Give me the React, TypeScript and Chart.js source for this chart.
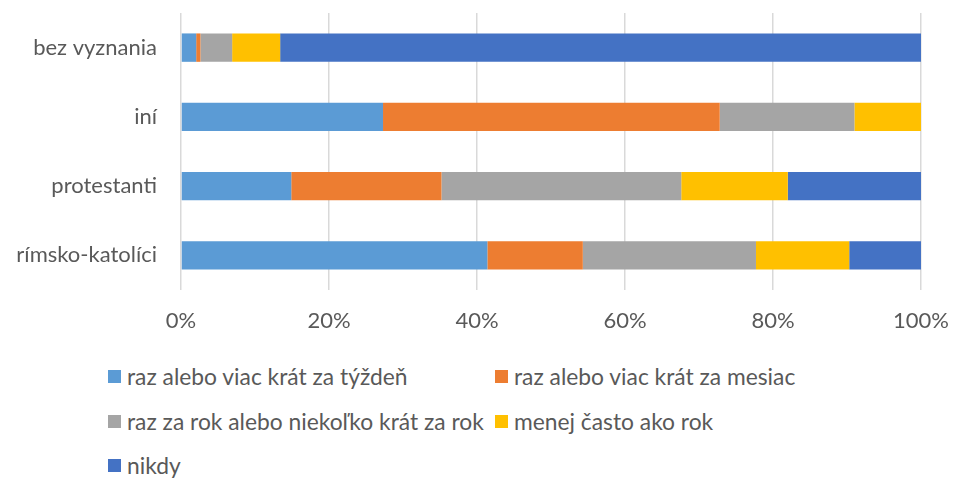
import React, { useEffect, useRef } from "react";
import { Chart, registerables } from "chart.js";

Chart.register(...registerables);

const categories = ["bez vyznania", "iní", "protestanti", "rímsko-katolíci"];
const seriesNames = [
  "raz alebo viac krát za týždeň",
  "raz alebo viac krát za mesiac",
  "raz za rok alebo niekoľko krát za rok",
  "menej často ako rok",
  "nikdy",
];
const weekly = [2.05, 27.3, 14.9, 41.4];
const monthly = [0.58, 45.5, 20.3, 12.9];
const yearly = [4.28, 18.2, 32.4, 23.4];
const lessOften = [6.49, 9.0, 14.4, 12.6];
const never = [86.6, 0, 18.0, 9.7];
const colors = ["#5B9BD5", "#ED7D31", "#A5A5A5", "#FFC000", "#4472C4"];
const xTicks = [0, 20, 40, 60, 80, 100];

const FONT = 'Lato, "Open Sans", sans-serif';
const TEXT = "#595959";
const FS = 22;
const LEGEND_FS = 22.8;

export default function App() {
  const ref = useRef<HTMLCanvasElement | null>(null);
  useEffect(() => {
    document.body.style.margin = "0";
    const values = [weekly, monthly, yearly, lessOften, never];
    const chart = new Chart(ref.current!, {
      type: "bar",
      data: {
        labels: categories,
        datasets: seriesNames.map((n, i) => ({
          label: n,
          data: values[i],
          backgroundColor: colors[i],
          borderWidth: 0,
          barPercentage: 0.41,
          categoryPercentage: 1,
        })),
      },
      options: {
        indexAxis: "y",
        responsive: false,
        animation: false,
        layout: { padding: { top: 13, right: 32, left: 0, bottom: 0 } },
        plugins: { legend: { display: false }, tooltip: { enabled: false } },
        scales: {
          x: {
            stacked: true,
            min: 0,
            max: 100,
            afterBuildTicks: (s: any) => {
              s.ticks = xTicks.map((v) => ({ value: v }));
            },
            afterFit: (s: any) => {
              s.height = 50;
              s.paddingLeft = 0;
              s.paddingRight = 0;
            },
            ticks: {
              callback: (v: any) => v + "%",
              color: TEXT,
              font: { family: FONT, size: FS },
              padding: 18,
              maxRotation: 0,
            },
            grid: { color: "#d9d9d9", lineWidth: 1.5, drawTicks: false },
            border: { display: false },
          },
          y: {
            stacked: true,
            afterFit: (s: any) => {
              s.width = 181;
              s.paddingTop = 0;
              s.paddingBottom = 0;
            },
            ticks: {
              color: TEXT,
              font: { family: FONT, size: FS },
              padding: 24,
            },
            grid: { display: false, drawTicks: false },
            border: { display: false },
          },
        },
      },
    });
    return () => chart.destroy();
  }, []);

  const legendPos = [
    { x: 108, y: 376 },
    { x: 495, y: 376 },
    { x: 108, y: 421 },
    { x: 495, y: 421 },
    { x: 108, y: 465 },
  ];

  return (
    <div style={{ position: "relative", width: 953, height: 478, background: "#fff", fontFamily: FONT }}>
      <canvas ref={ref} width={953} height={340} style={{ position: "absolute", left: 0, top: 0 }} />
      {seriesNames.map((n, i) => (
        <div
          key={n}
          style={{
            position: "absolute",
            left: legendPos[i].x,
            top: legendPos[i].y - 14,
            height: 28,
            display: "flex",
            alignItems: "center",
            fontSize: LEGEND_FS,
            color: TEXT,
            whiteSpace: "nowrap",
          }}
        >
          <span style={{ display: "inline-block", width: 13, height: 13, background: colors[i], marginRight: 6 }} />
          {n}
        </div>
      ))}
    </div>
  );
}
